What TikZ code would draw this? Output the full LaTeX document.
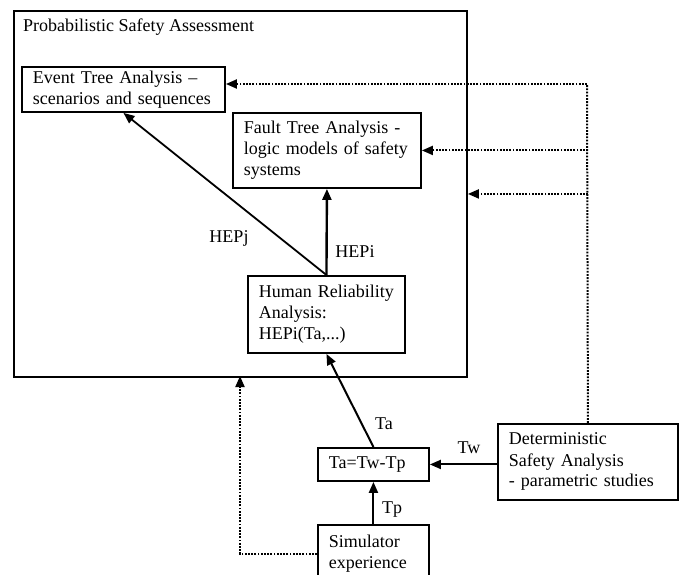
\documentclass[tikz,border=0pt]{standalone}
\usepackage{fontspec}
\setmainfont{Liberation Serif}
\usetikzlibrary{arrows.meta}
\begin{document}
\begin{tikzpicture}[x=1pt,y=-1pt,
  font=\fontsize{18}{21}\selectfont,
  box/.style={draw,line width=1.9pt,anchor=north west,align=left,
    inner xsep=11pt,inner ysep=0pt},
  arr/.style={line width=2pt,-{Triangle[length=11pt,width=9pt]}},
  dotline/.style={line width=2pt,dash pattern=on 1.8pt off 1.4pt},
  darr/.style={dotline,-{Triangle[length=11pt,width=9pt]}},
  lbl/.style={inner sep=0pt}]
\clip (0,0) rectangle (681,574);

% outer assessment frame and its title
\node[draw,line width=1.9pt,anchor=north west,minimum width=453pt,
  minimum height=366pt,inner sep=0pt] (psa) at (13,10) {};
\node[lbl,anchor=base west] (title) at (23,31) {Probabilistic Safety Assessment};

% analysis boxes
\node[box,text width=181pt,minimum height=45pt] (eta) at (21,66)
  {Event Tree Analysis --\\scenarios and sequences};
\node[box,text width=166pt,minimum height=75pt] (fta) at (232,112)
  {Fault Tree Analysis -\\logic models of safety\\systems};
\node[box,text width=135pt,minimum height=77pt] (hra) at (247,275)
  {Human Reliability\\Analysis:\\HEPi(Ta,...)};
\node[box,text width=89pt,minimum height=33pt] (ta) at (317,447)
  {Ta=Tw-Tp};
\node[box,text width=158pt,minimum height=76pt] (dsa) at (497,423)
  {Deterministic\\Safety Analysis\\- parametric studies};
\node[box,text width=89pt,minimum height=58pt] (sim) at (317,524)
  {Simulator\\experience};

% solid data flows
\draw[arr,line width=1.8pt] (hra.north) -- (eta.south);
\draw[arr,line width=2.4pt] (hra.north) -- (fta.south);
\draw[arr] (ta.north) -- (hra.south);
\draw[arr] (dsa.west |- ta.east) -- (ta.east);
\draw[arr] (sim.north) -- (ta.south);

% dotted supporting inputs
\coordinate (psain) at (240,376);
\draw[darr] (sim.west) -| (psain);
\coordinate (dtop) at (587,84);
\draw[dotline] (dsa.north) -- (dtop);
\draw[darr] (dtop) -- (eta.east |- dtop);
\draw[darr] (dsa.north |- fta.east) -- (fta.east);
\draw[darr] (dsa.north |- psa.east) -- (psa.east);

% flow labels
\node[lbl] (hepj) at (229,238) {HEPj};
\node[lbl] (hepi) at (355,252) {HEPi};
\node[lbl] (lta) at (384,424) {Ta};
\node[lbl] (ltw) at (469,448) {Tw};
\node[lbl] (ltp) at (392,510) {Tp};
\end{tikzpicture}
\end{document}
